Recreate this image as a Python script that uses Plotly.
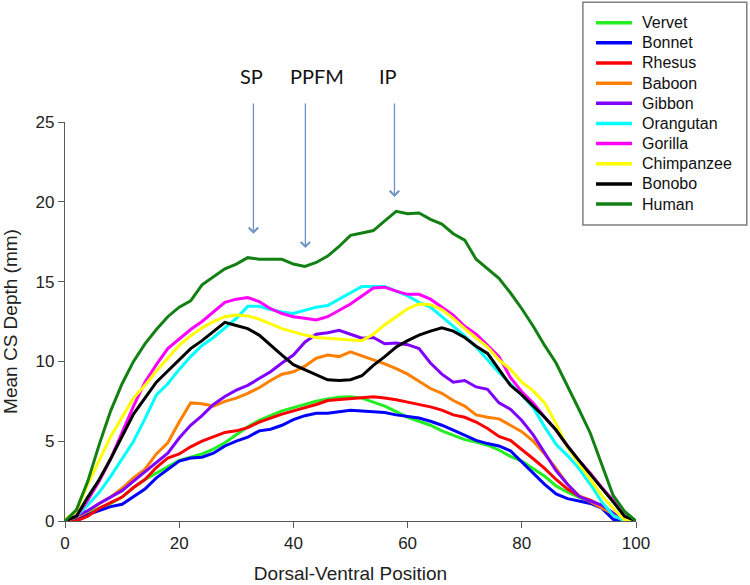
import plotly.graph_objects as go

# dorsal-ventral position (x) shared by every species
position = [0, 2, 4, 6, 8, 10, 12, 14, 16, 18, 20, 22, 24, 26, 28, 30, 32, 34, 36, 38, 40,
            42, 44, 46, 48, 50, 52, 54, 56, 58, 60, 62, 64, 66, 68, 70, 72, 74, 76, 78, 80,
            82, 84, 86, 88, 90, 92, 94, 96, 98, 100]

# mean CS depth (mm) per species
vervet = [0, 0.1, 0.5, 0.8, 1.1, 1.5, 2.1, 2.6, 3.0, 3.4, 3.8, 4.0, 4.2, 4.5, 4.9, 5.4, 5.9, 6.3, 6.6, 6.9, 7.1,
          7.3, 7.5, 7.65, 7.75, 7.78, 7.7, 7.45, 7.2, 6.85, 6.5, 6.25, 6.0, 5.65, 5.35, 5.1, 4.95, 4.75, 4.45, 4.05, 3.75,
          3.3, 2.8, 2.2, 1.8, 1.5, 1.2, 0.9, 0.45, 0.05, 0]
bonnet = [0, 0.1, 0.4, 0.65, 0.9, 1.05, 1.5, 2.0, 2.7, 3.2, 3.75, 3.95, 4.0, 4.25, 4.7, 5.0, 5.25, 5.65, 5.75, 6.0, 6.35,
          6.6, 6.75, 6.75, 6.85, 6.94, 6.9, 6.85, 6.8, 6.65, 6.55, 6.45, 6.25, 6.0, 5.7, 5.35, 5.05, 4.85, 4.7, 4.4, 3.7,
          3.0, 2.3, 1.7, 1.4, 1.25, 1.1, 0.8, 0.1, 0, 0]
rhesus = [0, 0, 0.3, 0.8, 1.15, 1.5, 2.1, 2.6, 3.35, 3.95, 4.2, 4.65, 5.0, 5.3, 5.55, 5.65, 5.85, 6.2, 6.45, 6.7, 6.9,
          7.1, 7.3, 7.55, 7.6, 7.67, 7.72, 7.78, 7.7, 7.6, 7.45, 7.3, 7.15, 6.95, 6.65, 6.5, 6.2, 5.8, 5.3, 5.05, 4.5,
          3.9, 3.3, 2.6, 2.0, 1.55, 1.3, 0.95, 0.4, 0.05, 0]
baboon = [0, 0.25, 0.6, 1.1, 1.5, 2.05, 2.7, 3.25, 4.2, 4.9, 6.2, 7.4, 7.35, 7.2, 7.5, 7.7, 8.0, 8.35, 8.8, 9.2, 9.35,
          9.7, 10.2, 10.4, 10.3, 10.6, 10.35, 10.1, 9.85, 9.55, 9.2, 8.75, 8.3, 8.0, 7.55, 7.2, 6.65, 6.5, 6.4, 6.0, 5.6,
          5.0, 4.2, 3.3, 2.3, 1.6, 1.2, 0.85, 0.45, 0.05, 0]
gibbon = [0, 0.35, 0.65, 1.1, 1.5, 1.9, 2.5, 3.1, 3.65, 4.25, 5.2, 6.0, 6.6, 7.3, 7.8, 8.2, 8.5, 8.95, 9.35, 9.9, 10.4,
          11.2, 11.7, 11.8, 11.95, 11.7, 11.45, 11.5, 11.1, 11.15, 11.05, 10.8, 9.9, 9.2, 8.7, 8.8, 8.4, 8.25, 7.4, 7.0, 6.3,
          5.4, 4.3, 3.15, 2.3, 1.55, 1.25, 1.0, 0.5, 0.05, 0]
orangutan = [0, 0.3, 1.0, 1.8, 2.8, 3.9, 5.0, 6.4, 7.9, 8.6, 9.5, 10.3, 11.0, 11.5, 12.1, 12.7, 13.45, 13.45, 13.25, 13.1, 13.0,
             13.2, 13.4, 13.5, 13.9, 14.25, 14.7, 14.7, 14.7, 14.4, 14.1, 13.7, 13.4, 12.8, 12.2, 11.6, 10.9, 10.1, 9.3, 8.6, 7.9,
             7.1, 5.9, 4.8, 4.1, 3.3, 2.3, 1.2, 0.35, 0, 0]
gorilla = [0, 0.3, 1.3, 2.5, 3.9, 5.6, 7.2, 8.7, 9.8, 10.8, 11.4, 12.0, 12.5, 13.1, 13.7, 13.9, 14.0, 13.75, 13.3, 13.0, 12.8,
           12.7, 12.6, 12.8, 13.2, 13.6, 14.1, 14.6, 14.65, 14.4, 14.2, 14.2, 13.9, 13.4, 12.9, 12.2, 11.7, 11.0, 10.3, 9.0, 8.1,
           7.4, 6.5, 5.7, 4.7, 3.8, 3.0, 2.1, 1.3, 0.3, 0]
chimpanzee = [0.1, 0.6, 2.3, 3.8, 5.3, 6.5, 7.7, 8.5, 9.4, 10.2, 11.0, 11.6, 12.1, 12.5, 12.8, 12.9, 12.85, 12.65, 12.35, 12.05, 11.85,
              11.65, 11.5, 11.45, 11.4, 11.35, 11.3, 11.7, 12.3, 12.8, 13.3, 13.6, 13.55, 13.25, 12.7, 12.05, 11.5, 10.9, 10.1, 9.5, 8.7,
              8.15, 7.4, 6.1, 4.6, 3.6, 2.6, 1.6, 0.8, 0.05, 0]
bonobo = [0, 0.3, 1.5, 2.6, 3.9, 5.3, 6.7, 7.7, 8.7, 9.4, 10.1, 10.8, 11.3, 11.9, 12.45, 12.25, 12.05, 11.65, 11.0, 10.4, 9.8,
          9.5, 9.2, 8.85, 8.8, 8.85, 9.1, 9.75, 10.3, 10.9, 11.3, 11.65, 11.9, 12.1, 11.9, 11.5, 10.95, 10.5, 9.5, 8.5, 7.9,
          7.2, 6.5, 5.7, 4.7, 3.8, 2.95, 2.1, 1.2, 0.3, 0]
human = [0, 0.7, 2.5, 4.8, 6.9, 8.6, 10.0, 11.1, 12.0, 12.8, 13.4, 13.8, 14.8, 15.3, 15.8, 16.1, 16.5, 16.4, 16.4, 16.4, 16.1,
         15.95, 16.2, 16.6, 17.2, 17.9, 18.05, 18.2, 18.8, 19.4, 19.25, 19.3, 18.9, 18.6, 18.0, 17.6, 16.4, 15.8, 15.2, 14.3, 13.3,
         12.2, 11.0, 9.9, 8.5, 7.0, 5.5, 3.5, 1.6, 0.6, 0]

species = ["Vervet", "Bonnet", "Rhesus", "Baboon", "Gibbon", "Orangutan", "Gorilla", "Chimpanzee", "Bonobo", "Human"]
depths = [vervet, bonnet, rhesus, baboon, gibbon, orangutan, gorilla, chimpanzee, bonobo, human]
colors = ["#22EE22", "#0000FF", "#FF0000", "#FF8000", "#8000FF", "#00FFFF", "#FF00FF", "#FFFF00", "#000000", "#138013"]

# landmark arrows: label, x, arrow tip depth
landmarks = ["SP", "PPFM", "IP"]
landmark_x = [33.0, 42.1, 57.7]
landmark_tip = [18.0, 17.1, 20.3]
label_x = [32.6, 44.2, 56.6]

FONT = "Liberation Sans, Arial, sans-serif"

fig = go.Figure()
for name, ys, c in zip(species, depths, colors):
    fig.add_trace(go.Scatter(x=position, y=ys, name=name, mode="lines",
                             line=dict(color=c, width=3)))

# arrows + labels above the curves
for lab, lx, tip, tx in zip(landmarks, landmark_x, landmark_tip, label_x):
    fig.add_annotation(x=lx, y=tip, ax=lx, ay=26.25, axref="x", ayref="y", text="",
                       showarrow=True, arrowhead=4, arrowsize=1.4, arrowwidth=1.3,
                       arrowcolor="#6A93C0")
    fig.add_annotation(x=tx, y=1.151, xref="x", yref="paper", text=lab, showarrow=False,
                       font=dict(family="Lato, Open Sans, sans-serif", size=20, color="#111111"))

# hand-drawn legend box (plotly's own spacing is too loose)
fig.add_shape(type="rect", xref="paper", yref="paper", x0=0.907, x1=1.194, y0=0.742, y1=1.3,
              line=dict(color="#7F7F7F", width=1.5), fillcolor="white", layer="below")
for i, (name, c) in enumerate(zip(species, colors)):
    yp = (521 - (22.7 + 20.15 * i)) / 399
    fig.add_shape(type="line", xref="paper", yref="paper", x0=0.930, x1=0.993, y0=yp, y1=yp,
                  line=dict(color=c, width=3.5))
    fig.add_annotation(x=1.007, y=yp, xref="paper", yref="paper", text=name, showarrow=False,
                       xanchor="left", yanchor="middle",
                       font=dict(family=FONT, size=16, color="#111111"))

fig.update_layout(
    width=750, height=585,
    margin=dict(l=65, r=114, t=122, b=64, autoexpand=False),
    plot_bgcolor="white", paper_bgcolor="white",
    showlegend=False,
    font=dict(family=FONT, size=17, color="#222222"),
    xaxis=dict(range=[0, 100], tickvals=[0, 20, 40, 60, 80, 100], showgrid=False, zeroline=False,
               automargin=False,
               showline=True, linecolor="#595959", linewidth=1.3, ticks="outside", ticklen=6,
               tickcolor="#595959", title=dict(text="Dorsal-Ventral Position", font=dict(size=19))),
    yaxis=dict(range=[0, 25], tickvals=[0, 5, 10, 15, 20, 25], showgrid=False, zeroline=False,
               automargin=False,
               showline=True, linecolor="#595959", linewidth=1.3, ticks="outside", ticklen=6,
               tickcolor="#595959",
               title=dict(text="Mean CS Depth (mm)", font=dict(size=19), standoff=18)),
)

# drop the default page margin so the figure fills the window; hide the modebar
fig.write_html("out.html", config={"displayModeBar": False},
               post_script="document.body.style.margin='0';")
